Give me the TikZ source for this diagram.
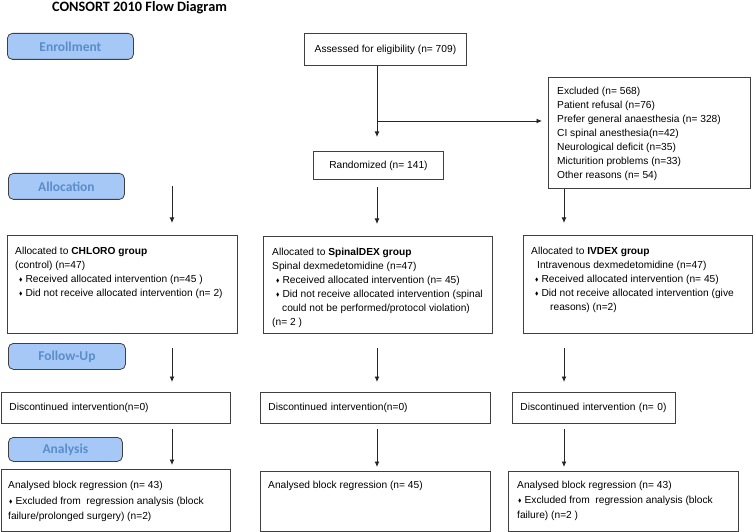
\documentclass[tikz,border=0pt]{standalone}
\usepackage{amssymb}
\usepackage{fontspec}
\setmainfont{Liberation Sans}
\newfontfamily\calibri{Carlito}
\usepackage{tikz}
\usetikzlibrary{positioning, arrows.meta}
\definecolor{phasefill}{HTML}{A6C8F7}
\definecolor{phasetext}{HTML}{5B8DCB}
\definecolor{ink}{HTML}{262626}
\definecolor{boxline}{HTML}{404040}
\newcommand{\bodyfont}{\fontsize{10.2}{14}\selectfont}
\newcommand{\itm}{\hspace*{4pt}\raisebox{0.8pt}{\scalebox{0.5}{$\blacklozenge$}}\hspace{3pt}}
\tikzset{
  phase/.style   = {rectangle, rounded corners=5pt, draw=boxline, line width=0.8pt,
                    fill=phasefill, anchor=north west, inner sep=0pt,
                    font=\calibri\bfseries\fontsize{13.5}{15}\selectfont, text=phasetext},
  flowbox/.style = {rectangle, draw=boxline, line width=0.9pt, anchor=north west,
                    inner sep=0pt, font=\bodyfont},
  linebox/.style = {flowbox, align=left, inner xsep=8pt, minimum height=31pt},
  body/.style    = {anchor=north west, inner sep=0pt, align=left, font=\bodyfont},
  ar/.style      = {-{Latex[length=5.5pt,width=5pt]}, line width=0.9pt, draw=ink},
}

\begin{document}
\begin{tikzpicture}[x=1pt, y=-1pt]
  \useasboundingbox (0,0) rectangle (753,532);

  \node[font=\calibri\bfseries\fontsize{14.3}{16}\selectfont, anchor=base] (title) at (139.5,11.5) {CONSORT 2010 Flow Diagram};

  % phases
  \node[phase, minimum width=126pt, minimum height=26pt] (enroll) at (7,33) {Enrollment};
  \node[phase, minimum width=116pt, minimum height=26pt] (alloc) at (8,173) {Allocation};
  \node[phase, minimum width=117pt, minimum height=26pt] (follow) at (8,343) {Follow-Up};
  \node[phase, minimum width=114pt, minimum height=24pt] (analysis) at (8,437) {Analysis};

  % enrollment
  \node[flowbox, minimum width=162pt, minimum height=32pt] (assess) at (304,33) {Assessed for eligibility (n= 709)};
  \node[flowbox, minimum width=130pt, minimum height=28pt] (rand) at (313,151) {Randomized (n= 141)};
  \node[flowbox, minimum width=202pt, minimum height=111pt] (excl) at (548,77) {};
  \node[body, below right=10pt and 9pt of excl.north west] (excltxt)
       {Excluded (n= 568)\\
        Patient refusal (n=76)\\
        Prefer general anaesthesia (n= 328)\\
        CI spinal anesthesia(n=42)\\
        Neurological deficit (n=35)\\
        Micturition problems (n=33)\\
        Other reasons (n= 54)};

  % allocation
  \node[flowbox, minimum width=230pt, minimum height=98pt] (chloro) at (7,235) {};
  \node[body, below right=12pt and 8pt of chloro.north west] (chlorotxt)
       {Allocated to \textbf{CHLORO group}\\
        (control) (n=47)\\
        \itm Received allocated intervention (n=45 )\\
        \itm Did not receive allocated intervention (n= 2)};
  \node[flowbox, minimum width=229pt, minimum height=97pt] (spinal) at (263,236) {};
  \node[body, below right=12pt and 9pt of spinal.north west] (spinaltxt)
       {Allocated to \textbf{SpinalDEX group}\\
        Spinal dexmedetomidine (n=47)\\
        \itm Received allocated intervention (n= 45)\\
        \itm Did not receive allocated intervention (spinal\\
        \hspace*{10pt}could not be performed/protocol violation)\\
        (n= 2 )};
  \node[flowbox, minimum width=229pt, minimum height=98pt] (ivdex) at (523,235) {};
  \node[body, below right=12pt and 8pt of ivdex.north west] (ivdextxt)
       {Allocated to \textbf{IVDEX group}\\
        \hspace*{6pt}Intravenous dexmedetomidine (n=47)\\
        \itm Received allocated intervention (n= 45)\\
        \itm Did not receive allocated intervention (give\\
        \hspace*{19pt}reasons) (n=2)};

  % follow-up
  \node[linebox, text width=213pt] (disc1) at (1,392) {Discontinued intervention(n=0)};
  \node[linebox, text width=214pt] (disc2) at (260,392) {Discontinued intervention(n=0)};
  \node[linebox, text width=147pt] (disc3) at (512,392) {Discontinued intervention (n= 0)};

  % analysis
  \node[flowbox, minimum width=229pt, minimum height=62pt] (anal1) at (1,469) {};
  \node[body, font=\fontsize{10.2}{15.5}\selectfont, below right=12pt and 7pt of anal1.north west] (anal1txt)
       {Analysed block regression (n= 43)\\
        \hspace*{-3pt}\itm Excluded from\ \ regression analysis (block\\
        failure/prolonged surgery) (n=2)};
  \node[flowbox, minimum width=230pt, minimum height=60pt] (anal2) at (260,471) {};
  \node[body, below right=10pt and 8pt of anal2.north west] (anal2txt)
       {Analysed block regression (n= 45)};
  \node[flowbox, minimum width=230pt, minimum height=60pt] (anal3) at (508,471) {};
  \node[body, font=\fontsize{10.2}{15}\selectfont, below right=10pt and 9pt of anal3.north west] (anal3txt)
       {Analysed block regression (n= 43)\\
        \hspace*{-3pt}\itm Excluded from\ \ regression analysis (block\\
        failure) (n=2 )};

  % connectors
  \coordinate (colL) at (172,186);
  \coordinate (colM) at (377,0);
  \coordinate (colR) at (564,0);
  \coordinate (split) at (377,121);
  \draw[ar, shorten >=14pt] (assess.south -| colM) -- (rand.north -| colM);
  \draw[ar, shorten >=6pt] (split) -- (excl.west |- split);
  \draw[ar, shorten >=12pt] (colL) -- (chloro.north -| colL);
  \draw[ar, shorten <=7pt, shorten >=12pt] (rand.south -| colM) -- (spinal.north -| colM);
  \draw[ar, shorten >=12pt] (excl.south -| colR) -- (ivdex.north -| colR);
  \foreach \g/\d/\a/\c in {chloro/disc1/anal1/colL, spinal/disc2/anal2/colM, ivdex/disc3/anal3/colR} {
    \draw[ar, shorten <=14pt, shorten >=10pt] (\g.south -| \c) -- (\d.north -| \c);
    \draw[ar, shorten <=5pt, shorten >=4pt] (\d.south -| \c) -- (\a.north -| \c);
  }
\end{tikzpicture}
\end{document}
